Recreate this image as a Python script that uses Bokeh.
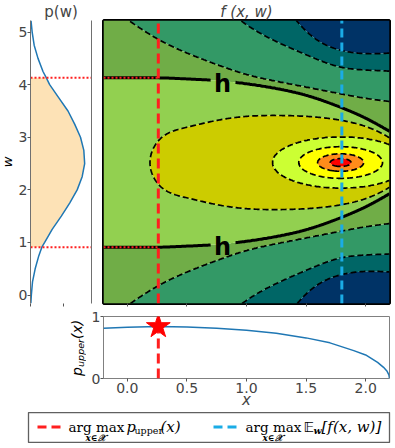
import numpy as np
from bokeh.plotting import figure
from bokeh.plotting.contour import contour_data
from bokeh.layouts import column, row
from bokeh.models import Range1d, FixedTicker, LinearAxis, NumeralTickFormatter, CustomJSTickFormatter
from bokeh.core.properties import value
from bokeh.embed import file_html
from bokeh.resources import INLINE

# ---------------- data ----------------
X_RANGE = (-0.2, 2.2)
W_RANGE = (-0.16, 5.22)
X_TICKS = [0.0, 0.5, 1.0, 1.5, 2.0]
W_TICKS = [0, 1, 2, 3, 4, 5]

# contour geometry of f(x, w): half-widths |w - W0| of each contour line at x knots
W0 = 2.52
XK = [-0.2, 0.0, 0.26, 0.5, 0.75, 1.0, 1.25, 1.5, 1.8, 2.0, 2.2]
U_H = [1.61, 1.61, 1.61, 1.59, 1.56, 1.50, 1.41, 1.28, 1.04, 0.84, 0.59]
U_SG = [3.05, 2.72, 2.34, 2.08, 1.86, 1.67, 1.54, 1.43, 1.30, 1.22, 1.16]
U_TEAL = [4.6, 4.25, 3.85, 3.45, 3.05, 2.62, 2.30, 2.05, 1.81, 1.76, 1.74]
U_NAVY = [5.7, 5.4, 5.0, 4.6, 4.15, 3.65, 3.15, 2.50, 2.13, 2.07, 2.08]
X_DY = [-0.2, 0.0, 0.19, 0.26, 0.5, 0.75, 1.0, 1.25, 1.5, 1.8, 2.0, 2.2]
D_DY = [-0.9, -0.45, 0.0, 0.17, 0.45, 0.64, 0.77, 0.80, 0.77, 0.64, 0.47, 0.22]
PEAK_X = 1.79
PEAK_ASPECT = 1.17
PEAK_RADII = [0.0, 0.075, 0.165, 0.30, 0.49, 0.55, 1.0, 6.0]
PEAK_LEVEL = [9.3, 8.5, 7.5, 6.5, 5.5, 4.0, -5.0, -30.0]

BAND_EDGES = [-1000, 0.5, 1.5, 2.5, 3.5, 4.5, 5.5, 6.5, 7.5, 8.5, 1000]
BAND_COLORS = ["#003366", "#006666", "#339966", "#70AD47", "#92D050",
               "#CCCC00", "#CCFF33", "#FFFF00", "#FF8C1A", "#FF0000"]
DASHED_LEVELS = [0.5, 1.5, 2.5, 4.5, 5.5, 6.5, 7.5, 8.5]
H_LEVEL = 3.5
H_LABEL_X = 0.80
H_GAP = 0.10

# p(w)
PW_W = [-0.16, 0.0, 0.25, 0.5, 0.75, 0.91, 1.0, 1.25, 1.5, 1.75, 2.0, 2.25, 2.5,
        2.75, 3.0, 3.25, 3.5, 3.75, 4.0, 4.13, 4.25, 4.5, 4.75, 5.0, 5.22]
PW_P = [0.002, 0.005, 0.012, 0.028, 0.05, 0.068, 0.085, 0.13, 0.185, 0.235, 0.28, 0.31, 0.325,
        0.32, 0.30, 0.265, 0.225, 0.17, 0.115, 0.095, 0.075, 0.045, 0.022, 0.01, 0.003]
PW_XMAX = 0.366
PW_TICKS = [0.0, 0.2]

# p_upper(x)
PU_X = [-0.2, 0.0, 0.26, 0.5, 0.75, 1.0, 1.25, 1.5, 1.7, 1.9, 2.0, 2.1, 2.15, 2.18, 2.195, 2.2]
PU_Y = [0.81, 0.826, 0.838, 0.83, 0.81, 0.78, 0.73, 0.655, 0.575, 0.45, 0.38, 0.26, 0.18, 0.115, 0.06, 0.0]

X_MEAN_OPT = 1.8

RED = "#FF1F1F"
BLUE = "#1AACE6"
CURVE = "#1f77b4"
EMPTY = CustomJSTickFormatter(code="return ''")
TICK_FONT = "14px"


# ---------------- helpers ----------------
def spline(xk, yk, x):
    xk = np.asarray(xk, float)
    yk = np.asarray(yk, float)
    n = len(xk)
    h = np.diff(xk)
    A = np.zeros((n, n))
    r = np.zeros(n)
    A[0, 0] = A[-1, -1] = 1.0
    for i in range(1, n - 1):
        A[i, i - 1] = h[i - 1]
        A[i, i] = 2 * (h[i - 1] + h[i])
        A[i, i + 1] = h[i]
        r[i] = 3 * ((yk[i + 1] - yk[i]) / h[i] - (yk[i] - yk[i - 1]) / h[i - 1])
    c = np.linalg.solve(A, r)
    b = (yk[1:] - yk[:-1]) / h - h * (2 * c[:-1] + c[1:]) / 3
    d = (c[1:] - c[:-1]) / (3 * h)
    idx = np.clip(np.searchsorted(xk, x) - 1, 0, n - 2)
    dx = x - xk[idx]
    return yk[idx] + b[idx] * dx + c[idx] * dx ** 2 + d[idx] * dx ** 3


def flat(a):
    if isinstance(a, (list, tuple)):
        parts = []
        for seg in a:
            parts.append(np.asarray(seg, float).ravel())
            parts.append(np.array([np.nan]))
        return np.concatenate(parts) if parts else np.array([])
    return np.asarray(a, float).ravel()


def blank(fw, fh, xr, yr, top, bottom, left=0, right=0):
    f = figure(output_backend="svg", toolbar_location=None, frame_width=fw, frame_height=fh,
               x_range=Range1d(*xr), y_range=Range1d(*yr), x_axis_type=None, y_axis_type=None,
               min_border_top=top, min_border_bottom=bottom, min_border_left=left,
               min_border_right=right)
    f.outline_line_color = None
    f.background_fill_color = None
    f.border_fill_color = None
    return f


def ticks_only(ax, ticks):
    ax.ticker = FixedTicker(ticks=ticks)
    ax.formatter = EMPTY
    ax.major_label_text_font_size = "1px"
    ax.major_label_standoff = 0
    ax.major_tick_out = 3
    ax.major_tick_in = 0
    ax.minor_tick_line_color = None
    ax.axis_line_color = None
    ax.major_tick_line_color = "#555555"


# ---------------- field f(x, w) ----------------
xg = np.linspace(X_RANGE[0], X_RANGE[1], 300)
wg = np.linspace(W_RANGE[0], W_RANGE[1], 340)
XX, WW = np.meshgrid(xg, wg)
U = np.abs(WW - W0)
uh = spline(XK, U_H, XX)
usg = spline(XK, U_SG, XX)
ut = spline(XK, U_TEAL, XX)
un = spline(XK, U_NAVY, XX)
D = spline(X_DY, D_DY, XX)

t_in = np.minimum(3.5 + (uh ** 2 - U ** 2) / (uh ** 2 - D), 5.4)
t1 = 3.5 - (U - uh) / (usg - uh)
t2 = 2.5 - (U - usg) / (ut - usg)
t3 = 1.5 - (U - ut) / (un - ut)
t4 = 0.5 - (U - un) / (un - ut)
T = np.where(U < uh, t_in, np.where(U < usg, t1, np.where(U < ut, t2, np.where(U < un, t3, t4))))
rho = np.sqrt(((XX - PEAK_X) / PEAK_ASPECT) ** 2 + U ** 2)
T_PK = np.interp(rho, PEAK_RADII, PEAK_LEVEL)
Z = np.maximum(T, T_PK)

X_STAR = PU_X[int(np.argmax(PU_Y))]
P_STAR = max(PU_Y)
U_STAR = float(spline(XK, U_H, np.array([X_STAR]))[0])
W_HI = W0 + U_STAR
W_LO = W0 - U_STAR

# ---------------- sizes ----------------
FH_TOP = 283
FW_A = 61
FW_M = 286
TOP1, BOT1 = 19, 6
FH_B = 62
TOP2, BOT2 = 7, 34
LWW = 14

# ---------------- "w" label strip ----------------
lw = blank(LWW, FH_TOP, (0, LWW), W_RANGE, TOP1, BOT1)
lw.text(x=[7.0], y=[(W_RANGE[0] + W_RANGE[1]) / 2], text=["w"], angle=np.pi / 2,
        text_font=value("DejaVu Sans"), text_font_style="italic", text_font_size="13px",
        text_align="center", text_baseline="middle", text_color="black")

# ---------------- p(w) panel ----------------
pa = figure(output_backend="svg", toolbar_location=None, frame_width=FW_A, frame_height=FH_TOP,
            x_range=Range1d(0, PW_XMAX), y_range=Range1d(*W_RANGE),
            min_border_left=30 - LWW, min_border_right=6, min_border_top=TOP1, min_border_bottom=BOT1,
            title="p(w)")
pa.title.align = "center"
pa.title.text_font = "DejaVu Sans"
pa.title.text_font_style = "normal"
pa.title.text_font_size = "15px"
pa.title.standoff = 0
pa.grid.visible = False
pa.outline_line_color = None
pa.yaxis.ticker = FixedTicker(ticks=W_TICKS)
pa.yaxis.major_label_text_font = "DejaVu Sans"
pa.yaxis.major_label_text_font_size = TICK_FONT
pa.yaxis.major_label_standoff = 0
pa.yaxis.major_tick_out = 3
pa.yaxis.major_tick_in = 0
pa.yaxis.minor_tick_line_color = None
pa.yaxis.axis_line_color = "#707070"
pa.yaxis.major_tick_line_color = "#555555"
ticks_only(pa.xaxis[0], PW_TICKS)
ra = LinearAxis(ticker=FixedTicker(ticks=[]), major_tick_line_color=None,
                minor_tick_line_color=None, axis_line_color="#707070")
pa.add_layout(ra, "right")

pw_w = np.array(PW_W)
pw_p = np.array(PW_P)
m = (pw_w >= W_LO - 1e-6) & (pw_w <= W_HI + 1e-6)
pa.harea(y=pw_w[m], x1=np.zeros(m.sum()), x2=pw_p[m], fill_color="#FDE2B6")
pa.line(pw_p, pw_w, line_color=CURVE, line_width=1.5)
for wl in (W_HI, W_LO):
    pa.line([0, PW_XMAX], [wl, wl], line_color=RED, line_width=2, line_dash="2 2")

# ---------------- f(x, w) panel ----------------
pm = figure(output_backend="svg", toolbar_location=None, frame_width=FW_M, frame_height=FH_TOP,
            x_range=Range1d(*X_RANGE), y_range=Range1d(*W_RANGE),
            min_border_left=6, min_border_right=2, min_border_top=TOP1, min_border_bottom=BOT1,
            title="f (x, w)")
pm.title.align = "center"
pm.title.text_font = "DejaVu Sans"
pm.title.text_font_style = "italic"
pm.title.text_font_size = "15px"
pm.title.standoff = 0
pm.grid.visible = False
pm.yaxis.visible = False
ticks_only(pm.xaxis[0], X_TICKS)
pm.outline_line_color = "black"
pm.outline_line_width = 3

pm.contour(XX, WW, Z, BAND_EDGES, fill_color=BAND_COLORS)

cd = contour_data(XX, WW, Z, DASHED_LEVELS, want_fill=False, want_line=True)
dxs = [flat(a) for a in cd.line_data.xs]
dys = [flat(a) for a in cd.line_data.ys]
pm.multi_line(xs=dxs, ys=dys, line_color="black", line_width=1.7, line_dash="6 3")

ch = contour_data(XX, WW, Z, [H_LEVEL], want_fill=False, want_line=True)
hx = flat(ch.line_data.xs[0]).copy()
hy = flat(ch.line_data.ys[0]).copy()
gap = np.abs(hx - H_LABEL_X) < H_GAP
hx[gap] = np.nan
hy[gap] = np.nan
pm.line(hx, hy, line_color="black", line_width=3)
u_lab = float(spline(XK, U_H, np.array([H_LABEL_X]))[0])
pm.text(x=[H_LABEL_X, H_LABEL_X], y=[W0 + u_lab - 0.06, W0 - u_lab - 0.06], text=["h", "h"],
        text_font=value("DejaVu Sans"), text_font_style="bold", text_font_size="24px",
        text_align="center", text_baseline="middle", text_color="black")

for wl in (W_HI, W_LO):
    pm.line([X_RANGE[0], X_STAR], [wl, wl], line_color=RED, line_width=2, line_dash="2 2")
pm.line([X_STAR, X_STAR], list(W_RANGE), line_color=RED, line_width=3, line_dash="10 5")
pm.line([X_MEAN_OPT, X_MEAN_OPT], list(W_RANGE), line_color=BLUE, line_width=3, line_dash="9 5")

# ---------------- p_upper label strip ----------------
LPW = 86
lp = blank(LPW, FH_B, (0, LPW), (0, FH_B), TOP2, BOT2)
lp.text(x=[76.5], y=[2.5], text=["p"], angle=np.pi / 2, text_font=value("DejaVu Sans"),
        text_font_style="italic", text_font_size="14px", text_align="left",
        text_baseline="middle", text_color="black")
lp.text(x=[80.0], y=[11.6], text=["upper"], angle=np.pi / 2, text_font=value("DejaVu Sans"),
        text_font_style="italic", text_font_size="9.5px", text_align="left",
        text_baseline="middle", text_color="black")
lp.text(x=[76.5], y=[39.5], text=["(x)"], angle=np.pi / 2, text_font=value("DejaVu Sans"),
        text_font_style="italic", text_font_size="14px", text_align="left",
        text_baseline="middle", text_color="black")

# ---------------- p_upper(x) panel ----------------
pb = figure(output_backend="svg", toolbar_location=None, frame_width=FW_M, frame_height=FH_B,
            x_range=Range1d(*X_RANGE), y_range=Range1d(0, 1),
            min_border_left=103 - LPW, min_border_right=2, min_border_top=TOP2, min_border_bottom=BOT2)
pb.grid.visible = False
pb.outline_line_color = "#808080"
pb.outline_line_width = 1
pb.yaxis.ticker = FixedTicker(ticks=[0, 1])
pb.xaxis.ticker = FixedTicker(ticks=X_TICKS)
pb.xaxis.formatter = NumeralTickFormatter(format="0.0")
for ax in (pb.xaxis[0], pb.yaxis[0]):
    ax.major_label_text_font = "DejaVu Sans"
    ax.major_label_text_font_size = TICK_FONT
    ax.major_label_standoff = 1
    ax.major_tick_out = 3
    ax.major_tick_in = 0
    ax.minor_tick_line_color = None
    ax.axis_line_color = None
    ax.major_tick_line_color = "#555555"
pb.yaxis.major_label_standoff = 0
pb.xaxis.axis_label = "x"
pb.xaxis.axis_label_text_font = "DejaVu Sans"
pb.xaxis.axis_label_text_font_style = "italic"
pb.xaxis.axis_label_text_font_size = "15px"
pb.xaxis.axis_label_standoff = -5
pb.line(PU_X, PU_Y, line_color=CURVE, line_width=1.5)
pb.line([X_STAR, X_STAR], [0, P_STAR], line_color=RED, line_width=3, line_dash="10 5")
pb.scatter([X_STAR], [P_STAR], marker="star", size=25, fill_color="#FF0000", line_color="#FF0000")

# ---------------- legend ----------------
LGW, LGH = 361, 30
lg = blank(LGW, LGH, (0, LGW), (0, LGH), 0, 1, left=28, right=2)
lg.outline_line_color = "#606060"
lg.outline_line_width = 1.3
lg.background_fill_color = "white"
yc = 15.5
lg.line([9, 32], [yc, yc], line_color=RED, line_width=3, line_dash="9 5")
lg.line([185, 212], [yc, yc], line_color=BLUE, line_width=3, line_dash="9 5")

def ltxt(x, y, s, size="13.5px", style="normal", font="DejaVu Serif", align="left"):
    lg.text(x=[x], y=[y], text=[s], text_font=value(font), text_font_style=style,
            text_font_size=size, text_align=align, text_baseline="middle", text_color="black")

ltxt(40, yc, "arg max")
ltxt(98, yc, "p", style="italic", size="14.5px")
ltxt(106, yc - 3.5, "upper", size="9.5px")
ltxt(132, yc, "(x)", style="italic", size="15px")
ltxt(67, 4.5, "x∈𝒳", size="9px", style="bold italic", align="center")
ltxt(217, yc, "arg max")
ltxt(275, yc, "𝔼", font="DejaVu Sans", size="14.5px")
ltxt(285, yc - 3.5, "w", size="9.5px", style="bold italic")
ltxt(293, yc, "[f(x, w)]", style="italic", size="15px")
ltxt(244, 4.5, "x∈𝒳", size="9px", style="bold italic", align="center")

layout = column(row(lw, pa, pm), row(lp, pb), lg)
open("out.html", "w").write(file_html(layout, INLINE))
